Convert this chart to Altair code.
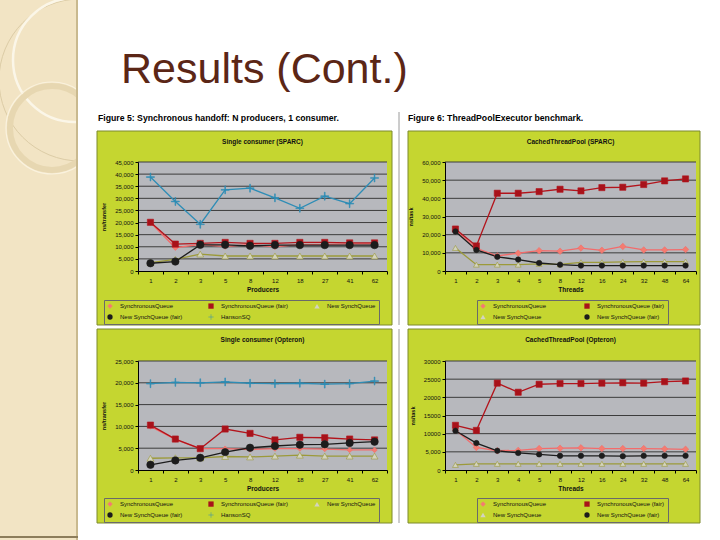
import altair as alt
import pandas as pd

# ---------------- data ----------------
slide_title = "Results (Cont.)"
caption_left = "Figure 5: Synchronous handoff: N producers, 1 consumer."
caption_right = "Figure 6: ThreadPoolExecutor benchmark."

producers = ["1", "2", "3", "5", "8", "12", "18", "27", "41", "62"]
threads = ["1", "2", "3", "4", "5", "8", "12", "16", "24", "32", "48", "64"]

series5 = ["SynchronousQueue", "SynchronousQueue (fair)", "New SynchQueue",
           "New SynchQueue (fair)", "HansonSQ"]
series4 = series5[:4]

# Single consumer (SPARC), ns/transfer
sq_sparc = [20000, 9600, 11000, 10100, 11000, 10000, 11000, 11000, 11200, 11200]
sqf_sparc = [20100, 11100, 11400, 11800, 11400, 11400, 11800, 11800, 11600, 11600]
nsq_sparc = [3500, 4800, 7000, 6200, 6200, 6200, 6200, 6200, 6200, 6200]
nsqf_sparc = [3200, 3900, 10800, 10800, 10400, 10700, 10700, 10700, 10700, 10700]
hanson_sparc = [38800, 28700, 19300, 33500, 34200, 30200, 25900, 30900, 27800, 38400]

# CachedThreadPool (SPARC), ns/task
sq_pool_sparc = [22500, 12500, 8300, 9800, 11200, 10900, 12600, 11400, 13500, 11600, 11600, 11800]
sqf_pool_sparc = [23100, 13800, 42800, 42800, 43700, 45000, 44100, 45900, 46100, 47600, 49600, 50700]
nsq_pool_sparc = [12700, 3500, 3500, 3500, 3900, 3700, 4800, 4800, 5000, 5200, 5200, 5200]
nsqf_pool_sparc = [21800, 11600, 7800, 6300, 4400, 3500, 3000, 3000, 3000, 3000, 3000, 3000]

# Single consumer (Opteron), ns/transfer
sq_opt = [10000, 7000, 4900, 4900, 4700, 4900, 4900, 4800, 4600, 4600]
sqf_opt = [10300, 7100, 4900, 9400, 8400, 6900, 7500, 7400, 7100, 6900]
nsq_opt = [2700, 2800, 2800, 3100, 3000, 3200, 3400, 3200, 3200, 3200]
nsqf_opt = [1200, 2200, 2800, 4100, 5100, 5500, 5800, 5900, 6200, 6500]
hanson_opt = [19800, 20100, 20000, 20200, 19900, 19800, 19900, 19700, 19800, 20400]

# CachedThreadPool (Opteron), ns/task
sq_pool_opt = [11000, 6200, 5300, 5400, 5900, 6000, 6100, 5900, 5900, 5900, 5800, 5700]
sqf_pool_opt = [12300, 10900, 23900, 21400, 23600, 23800, 23800, 23900, 24000, 23900, 24300, 24500]
nsq_pool_opt = [1400, 1700, 1700, 1700, 1700, 1700, 1700, 1700, 1700, 1700, 1700, 1700]
nsqf_pool_opt = [10800, 7400, 5300, 4700, 4300, 3900, 3900, 3900, 3800, 3900, 3900, 3900]

# ---------------- style ----------------
FONT = "Liberation Sans"
GREEN = "#c5d630"
PLOT = "#b7b8bd"
GRID = "#3c3c3c"
BEIGE = "#f2e4c4"
line_colors = ["#f36b6b", "#b3141c", "#9c9a3a", "#1c1c1c", "#2e8db6"]
fill_colors = ["#f47c70", "#a8121a", "#d3d3c0", "#1c1c1c", "#2e8db6"]
PLUS = "M-1,-0.09L1,-0.09L1,0.09L-1,0.09Z M-0.09,-1L0.09,-1L0.09,1L-0.09,1Z"
shapes = ["diamond", "square", "triangle-up", "circle", PLUS]
sizes = [36, 32, 42, 30, 64]

one = pd.DataFrame({"k": [0]})


def long_df(cats, names, arrays):
    rows = []
    for s, vals in zip(names, arrays):
        for i, (c, v) in enumerate(zip(cats, vals)):
            rows.append({"cat": c, "val": v, "series": s, "sk": s, "idx": i})
    return pd.DataFrame(rows)


def box(x1, x2, y1, y2, **kw):
    return alt.Chart(one).mark_rect(**kw).encode(
        x=alt.value(x1), x2=alt.value(x2), y=alt.value(y1), y2=alt.value(y2))


def label(text, x, y, size, align="left", weight="normal", color="#111"):
    return alt.Chart(one).mark_text(
        text=text, align=align, baseline="middle", font=FONT, fontSize=size,
        fontWeight=weight, color=color).encode(x=alt.value(x), y=alt.value(y))


def panel(cats, names, arrays, ymax, ystep, ytitle, xtitle, ctitle, w, h,
          green, bbox, legend_cols, legend_x, legend_y, col_pad,
          caption=None, cap_x=0, sep=None, ylabel_expr=None):
    n = len(names)
    df = long_df(cats, names, arrays)
    ticks = list(range(0, ymax + 1, ystep))
    yscale = alt.Scale(domain=[0, ymax], nice=False, zero=True)
    xscale = alt.Scale(type="band", domain=cats, paddingInner=0, paddingOuter=0)
    yaxis_kw = dict(title=ytitle, values=ticks, format=",d", grid=False,
                    domainColor="#000", tickColor="#000", tickSize=3,
                    labelFont=FONT, labelFontSize=6, labelColor="#111", labelPadding=2,
                    titleFont=FONT, titleFontSize=5.5, titleFontWeight="bold",
                    titleColor="#111", titlePadding=8, zindex=1)
    if ylabel_expr:
        yaxis_kw["labelExpr"] = ylabel_expr
    yaxis = alt.Axis(**yaxis_kw)
    xaxis = alt.Axis(title=xtitle, labelAngle=0, tickBand="extent", grid=False,
                     domainColor="#000", tickColor="#000", tickSize=3,
                     labelFont=FONT, labelFontSize=6, labelColor="#111", labelPadding=3,
                     titleFont=FONT, titleFontSize=6.5, titleFontWeight="bold",
                     titleColor="#111", titlePadding=3, zindex=1)
    X = alt.X("cat:O", scale=xscale, axis=xaxis)
    Y = alt.Y("val:Q", scale=yscale, axis=yaxis)
    # stroke/size scales list the series in reverse so that their (hidden) legends
    # are not merged with the visible fill/shape legend
    stroke_scale = alt.Scale(domain=names[::-1], range=line_colors[:n][::-1])
    size_scale = alt.Scale(domain=names[::-1], range=sizes[:n][::-1])
    fill_scale = alt.Scale(domain=names, range=fill_colors[:n])
    shape_scale = alt.Scale(domain=names, range=shapes[:n])
    leg = alt.Legend(title=None, orient="none", legendX=legend_x, legendY=legend_y,
                     direction="horizontal", columns=legend_cols,
                     labelFont=FONT, labelFontSize=6,
                     labelColor="#111", symbolSize=28, symbolStrokeWidth=0.6,
                     symbolStrokeColor="#444",
                     fillColor=GREEN, strokeColor="#6a6a6a", padding=3,
                     columnPadding=col_pad, rowPadding=3, labelOffset=7, labelLimit=300,
                     zindex=1)

    layers = [
        box(*bbox, opacity=0),
        box(*green, fill=GREEN, stroke="#7d8a2c", strokeWidth=1),
        box(0, w, 0, h, fill=PLOT),
        alt.Chart(pd.DataFrame({"val": ticks[1:]})).mark_rule(
            color=GRID, strokeWidth=1).encode(
            y=alt.Y("val:Q", scale=yscale, axis=yaxis),
            x=alt.value(0), x2=alt.value(w)),
        label(ctitle, w / 2, green[2] + 11, 6.5, align="center", weight="bold"),
    ]
    if caption:
        layers.append(label(caption, cap_x, -44, 8.7, weight="bold", color="#000"))
    if sep:
        layers.append(alt.Chart(one).mark_rule(color="#9a9a9a", strokeWidth=1).encode(
            x=alt.value(sep[0]), y=alt.value(sep[1]), y2=alt.value(sep[2])))
    lines = alt.Chart(df).mark_line(strokeWidth=1.3).encode(
        x=X, y=Y,
        stroke=alt.Stroke("sk:N", scale=stroke_scale, legend=None),
        order=alt.Order("idx:Q"))
    points = alt.Chart(df).mark_point(filled=True, opacity=1, strokeWidth=0.6).encode(
        x=X, y=Y,
        fill=alt.Fill("series:N", scale=fill_scale, legend=leg),
        shape=alt.Shape("series:N", scale=shape_scale, legend=leg),
        stroke=alt.Stroke("sk:N", scale=stroke_scale, legend=None),
        size=alt.Size("sk:O", scale=size_scale, legend=None))
    layers += [lines, points]
    return alt.layer(*layers).properties(width=w, height=h)


WL, WR, H = 249, 251, 109

p1 = panel(producers, series5,
           [sq_sparc, sqf_sparc, nsq_sparc, nsqf_sparc, hanson_sparc],
           45000, 5000, "ns/transfer", "Producers", "Single consumer (SPARC)",
           WL, H, green=(-41, 254, -31, 163), bbox=(-41, 262, -52, 164),
           legend_cols=3, legend_x=-34, legend_y=138, col_pad=24,
           caption=caption_left, cap_x=-40, sep=(261, -50, 163))

p2 = panel(threads, series4,
           [sq_pool_sparc, sqf_pool_sparc, nsq_pool_sparc, nsqf_pool_sparc],
           60000, 10000, "ns/task", "Threads", "CachedThreadPool (SPARC)",
           WR, H, green=(-37, 255, -31, 163), bbox=(-37, 255, -52, 164),
           legend_cols=2, legend_x=32, legend_y=138, col_pad=36,
           caption=caption_right, cap_x=-37)

p3 = panel(producers, series5,
           [sq_opt, sqf_opt, nsq_opt, nsqf_opt, hanson_opt],
           25000, 5000, "ns/transfer", "Producers", "Single consumer (Opteron)",
           WL, H, green=(-41, 254, -32, 162), bbox=(-41, 262, -32, 163),
           legend_cols=3, legend_x=-34, legend_y=137, col_pad=24,
           sep=(261, -32, 162))

p4 = panel(threads, series4,
           [sq_pool_opt, sqf_pool_opt, nsq_pool_opt, nsqf_pool_opt],
           30000, 5000, "ns/task", "Threads", "CachedThreadPool (Opteron)",
           WR, H, green=(-37, 255, -32, 162), bbox=(-37, 255, -32, 163),
           legend_cols=2, legend_x=32, legend_y=137, col_pad=36,
           ylabel_expr="datum.value == 5000 ? '5,000' : format(datum.value, 'd')")


def circle(cx, cy, r, color, width):
    return alt.Chart(one).mark_point(
        shape="circle", filled=False, size=(2 * r) ** 2, stroke=color,
        strokeWidth=width, opacity=1, clip=True).encode(
        x=alt.value(cx), y=alt.value(cy))


strip = alt.layer(
    box(0, 78, 0, 540, fill=BEIGE),
    circle(80, 80, 81, "#dccca6", 1),
    circle(75, 60, 62, "#fbf6e8", 2.5),
    circle(52, 128, 42, "#e7d7b1", 6),
    circle(52, 128, 46, "#faf2de", 1.2),
    box(76, 78, 0, 540, fill="#c9b98f"),
    box(0, 78, 536, 538, fill="#8d7d5b"),
).properties(width=78, height=540)

# header origin is aligned with the plot origin of the left panels (page x 137)
header = alt.layer(
    alt.Chart(one).mark_text(
        text=slide_title, align="left", baseline="alphabetic", font=FONT,
        fontSize=43, color="#5b2616").encode(x=alt.value(-17), y=alt.value(83)),
).properties(width=560, height=108)

RES = dict(color="independent", fill="independent", shape="independent",
           stroke="independent", size="independent")

row1 = alt.hconcat(p1, p2, spacing=7).resolve_scale(**RES).resolve_legend(**RES)
row2 = alt.hconcat(p3, p4, spacing=7).resolve_scale(**RES).resolve_legend(**RES)
right = alt.vconcat(header, row1, row2, spacing=2).resolve_scale(**RES).resolve_legend(**RES)

chart = alt.hconcat(strip, right, spacing=18).resolve_scale(**RES).resolve_legend(**RES).properties(
    padding=0, background="white"
).configure_view(stroke="transparent", strokeWidth=0)

chart.save("out.html", embed_options={"renderer": "svg", "actions": False})
